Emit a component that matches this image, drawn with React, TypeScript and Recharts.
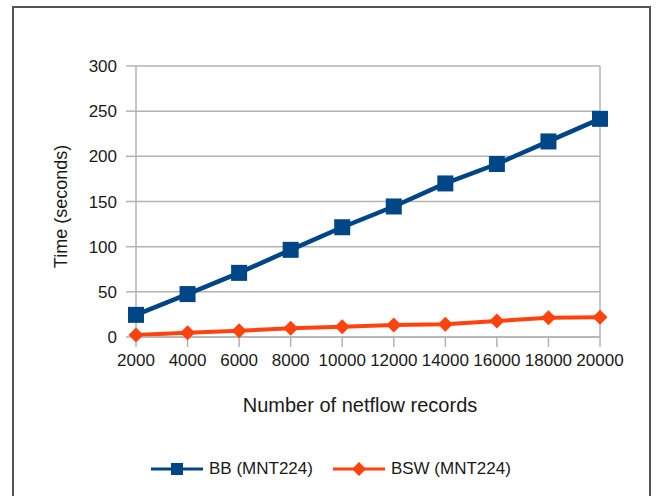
import { CartesianGrid, Legend, Line, LineChart, ReferenceLine, XAxis, YAxis } from "recharts"

const records = [2000, 4000, 6000, 8000, 10000, 12000, 14000, 16000, 18000, 20000]
const bbTimes = [24.5, 47.5, 71, 96.5, 121.5, 144.5, 170, 191.5, 216.5, 241.5]
const bswTimes = [2.2, 4.8, 7, 9.6, 11.4, 13.3, 14, 17.7, 21.4, 21.8]
const yTicks = [0, 50, 100, 150, 200, 250, 300]

const BLUE = "#004586"
const ORANGE = "#ff420e"
const GRID = "#b3b3b3"
const FONT = "'Liberation Sans', Arial, sans-serif"

const data = records.map((r, i) => ({ records: r, bb: bbTimes[i], bsw: bswTimes[i] }))

function SquareDot(props: any) {
  const { cx, cy, index } = props
  if (cx == null || cy == null) return null
  return <rect key={`sq-${index}`} x={cx - 8} y={cy - 8} width={16} height={16} fill={BLUE} />
}

function DiamondDot(props: any) {
  const { cx, cy, index } = props
  if (cx == null || cy == null) return null
  return (
    <path
      key={`dm-${index}`}
      d={`M${cx},${cy - 7.5} L${cx + 7.5},${cy} L${cx},${cy + 7.5} L${cx - 7.5},${cy} Z`}
      fill={ORANGE}
    />
  )
}

function LegendContent() {
  const item = (label: string, color: string, shape: "square" | "diamond") => (
    <div style={{ display: "flex", alignItems: "center", marginRight: 20 }}>
      <svg width={52} height={20} style={{ marginRight: 6 }}>
        <line x1={0} y1={10} x2={52} y2={10} stroke={color} strokeWidth={3} />
        {shape === "square" ? (
          <rect x={20} y={4} width={12} height={12} fill={color} />
        ) : (
          <path d="M26,3 L33,10 L26,17 L19,10 Z" fill={color} />
        )}
      </svg>
      <span style={{ fontFamily: FONT, fontSize: 17, color: "#1a1a1a" }}>{label}</span>
    </div>
  )
  return (
    <div style={{ display: "flex", alignItems: "center", paddingLeft: 151, height: 24 }}>
      {item("BB (MNT224)", BLUE, "square")}
      {item("BSW (MNT224)", ORANGE, "diamond")}
    </div>
  )
}

export default function App() {
  return (
    <div style={{ position: "absolute", left: 0, top: 0, width: 656, height: 496, background: "#fff", overflow: "hidden" }}>
      <div
        style={{
          position: "absolute",
          left: 12,
          top: 6,
          width: 639,
          height: 520,
          border: "2px solid #555",
          boxSizing: "border-box",
        }}
      />
      <div style={{ position: "absolute", left: 0, top: 0 }}>
        <LineChart width={656} height={496} data={data} margin={{ top: 66, right: 56, left: 56, bottom: 15 }}>
          <CartesianGrid horizontal vertical={false} stroke={GRID} strokeWidth={1.5} />
          <ReferenceLine x={20000} stroke={GRID} strokeWidth={1.5} />
          <XAxis
            dataKey="records"
            type="number"
            domain={[2000, 20000]}
            ticks={records}
            interval={0}
            height={120}
            stroke={GRID}
            strokeWidth={1.5}
            tickSize={10}
            tickMargin={7}
            tick={{ fill: "#1a1a1a", fontSize: 17, fontFamily: FONT }}
            label={{
              content: (p: any) => {
                const vb = p.viewBox
                return (
                  <text
                    x={vb.x + vb.width / 2 - 8}
                    y={vb.y + 75}
                    textAnchor="middle"
                    fill="#1a1a1a"
                    fontSize={20}
                    fontFamily={FONT}
                  >
                    Number of netflow records
                  </text>
                )
              },
            }}
          />
          <YAxis
            type="number"
            domain={[0, 300]}
            ticks={yTicks}
            width={80}
            stroke={GRID}
            strokeWidth={1.5}
            tickSize={10}
            tickMargin={9}
            tick={{ fill: "#1a1a1a", fontSize: 17, fontFamily: FONT }}
            label={{
              content: (p: any) => {
                const vb = p.viewBox
                const x = vb.x + 11
                const y = vb.y + vb.height / 2 + 5
                return (
                  <text
                    x={x}
                    y={y}
                    transform={`rotate(-90 ${x} ${y})`}
                    textAnchor="middle"
                    fill="#1a1a1a"
                    fontSize={18}
                    fontFamily={FONT}
                  >
                    Time (seconds)
                  </text>
                )
              },
            }}
          />
          <Legend verticalAlign="bottom" content={<LegendContent />} wrapperStyle={{ left: 0, width: 656 }} />
          <Line
            type="linear"
            dataKey="bsw"
            stroke={ORANGE}
            strokeWidth={4}
            dot={DiamondDot}
            activeDot={false}
            isAnimationActive={false}
          />
          <Line
            type="linear"
            dataKey="bb"
            stroke={BLUE}
            strokeWidth={4.5}
            dot={SquareDot}
            activeDot={false}
            isAnimationActive={false}
          />
        </LineChart>
      </div>
    </div>
  )
}
